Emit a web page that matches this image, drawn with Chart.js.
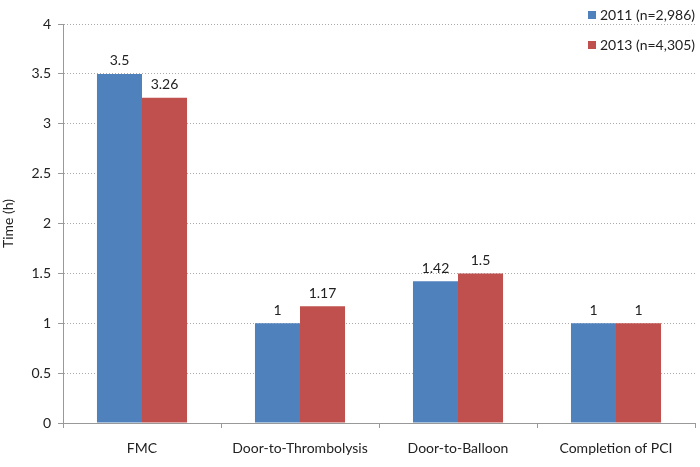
<!DOCTYPE html>
<html>
<head>
<meta charset="utf-8">
<script src="https://cdn.jsdelivr.net/npm/chart.js@4/dist/chart.umd.min.js"></script>
<style>
  html, body { margin: 0; padding: 0; background: #fff; }
  #wrap { width: 700px; height: 467px; }
</style>
</head>
<body>
<div id="wrap"><canvas id="canvas" width="700" height="467"></canvas></div>
<script>
let categories = ['FMC', 'Door-to-Thrombolysis', 'Door-to-Balloon', 'Completion of PCI'];
let values2011 = [3.5, 1, 1.42, 1];
let values2013 = [3.26, 1.17, 1.5, 1];
let seriesNames = ['2011 (n=2,986)', '2013 (n=4,305)'];
let yTicks = [0, 0.5, 1, 1.5, 2, 2.5, 3, 3.5, 4];

let fontFamily = 'Lato, "Open Sans", sans-serif';
let textColor = '#222';

// numbers above each bar
let valueLabels = {
  id: 'valueLabels',
  afterDatasetsDraw(chart) {
    let ctx = chart.ctx;
    ctx.save();
    ctx.font = '14px ' + fontFamily;
    ctx.fillStyle = textColor;
    ctx.textAlign = 'center';
    ctx.textBaseline = 'bottom';
    chart.data.datasets.forEach((ds, i) => {
      chart.getDatasetMeta(i).data.forEach((bar, j) => {
        ctx.fillText(String(ds.data[j]), bar.x, bar.y - 6);
      });
    });
    ctx.restore();
  }
};

// legend in the top right corner, over the plot
let cornerLegend = {
  id: 'cornerLegend',
  afterDraw(chart) {
    let ctx = chart.ctx;
    ctx.save();
    ctx.font = '14px ' + fontFamily;
    ctx.textBaseline = 'middle';
    ctx.textAlign = 'left';
    let rows = [15, 45];
    chart.data.datasets.forEach((ds, i) => {
      let y = rows[i];
      ctx.fillStyle = '#fff';
      ctx.fillRect(584, y - 8, 114, 16);
      ctx.fillStyle = ds.backgroundColor;
      ctx.fillRect(588, y - 4, 8, 8);
      ctx.fillStyle = textColor;
      ctx.fillText(seriesNames[i], 600, y);
    });
    ctx.restore();
  }
};

new Chart(document.getElementById('canvas'), {
  type: 'bar',
  data: {
    labels: categories,
    datasets: [{
      label: seriesNames[0],
      data: values2011,
      backgroundColor: '#4F81BD',
      borderWidth: 0,
      categoryPercentage: 0.57,
      barPercentage: 1
    }, {
      label: seriesNames[1],
      data: values2013,
      backgroundColor: '#C0504D',
      borderWidth: 0,
      categoryPercentage: 0.57,
      barPercentage: 1
    }]
  },
  options: {
    responsive: false,
    animation: false,
    devicePixelRatio: 1,
    layout: { padding: { top: 24, right: 5, left: 0, bottom: 0 } },
    plugins: {
      legend: { display: false },
      tooltip: { enabled: false }
    },
    scales: {
      x: {
        grid: { drawOnChartArea: false, drawTicks: true, tickLength: 5, color: '#999' },
        border: { color: '#999' },
        ticks: { color: textColor, font: { size: 14, family: fontFamily }, padding: 12 },
        afterFit(scale) { scale.height = 44; }
      },
      y: {
        min: 0,
        max: 4,
        afterBuildTicks(scale) { scale.ticks = yTicks.map(v => ({ value: v })); },
        grid: { color: '#aaa', tickLength: 5, tickColor: '#999', tickBorderDash: [] },
        border: { color: '#999', display: true, dash: [1, 2] },
        ticks: {
          color: textColor,
          font: { size: 14, family: fontFamily },
          padding: 7,
          callback: v => String(v)
        },
        title: { display: true, text: 'Time (h)', color: textColor, font: { size: 14, family: fontFamily }, padding: 0 },
        afterFit(scale) { scale.width = 63; }
      }
    }
  },
  plugins: [valueLabels, cornerLegend]
});
</script>
</body>
</html>
